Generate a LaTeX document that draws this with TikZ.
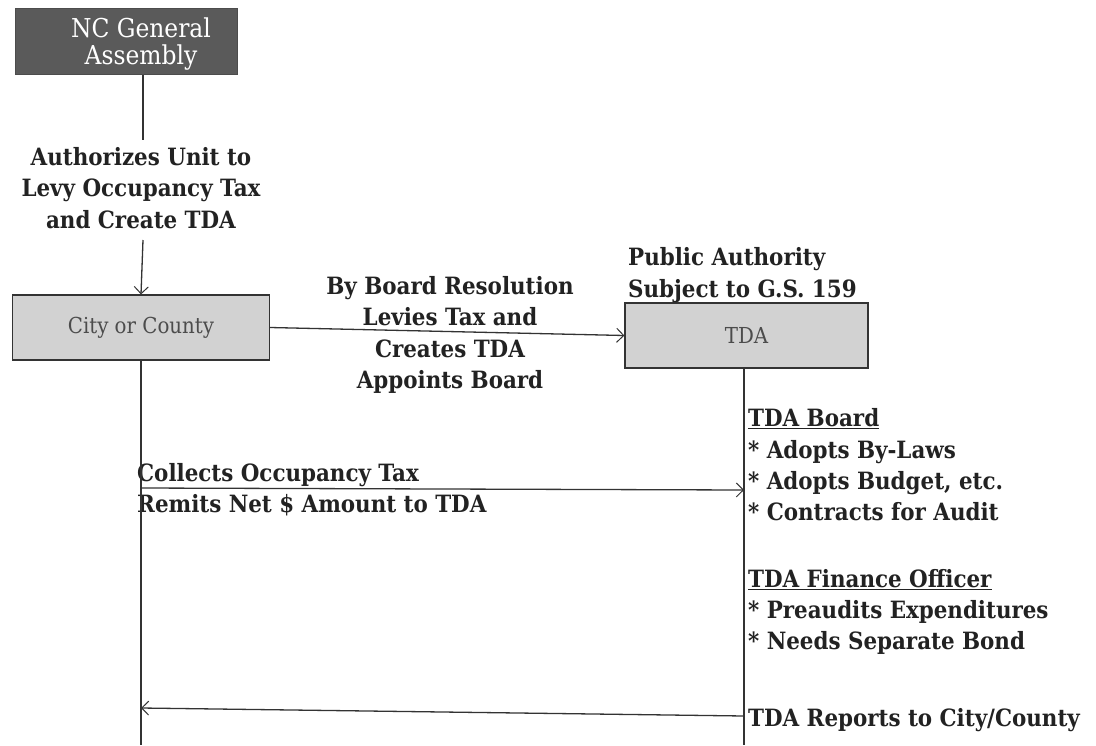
\documentclass[tikz,border=0pt]{standalone}
\usepackage{fontspec}
\setmainfont{DejaVu Serif Condensed}
\usetikzlibrary{arrows.meta}
\definecolor{boxgrey}{HTML}{D2D2D2}
\definecolor{darkbox}{HTML}{5A5A5A}
\definecolor{ink}{HTML}{222222}
\begin{document}
\begin{tikzpicture}[x=1pt,y=-1pt,
  txt/.style={font=\fontsize{23.8}{31.3}\selectfont\bfseries, text=ink, inner sep=0pt},
  lbl/.style={txt, align=left, anchor=west},
  clbl/.style={txt, align=center},
  greybox/.style={draw=black!80, line width=1.2pt, fill=boxgrey, text=black!70,
    font=\fontsize{22}{24}\selectfont, inner sep=0pt},
  conn/.style={draw=black!80, line width=1.3pt},
  arr/.style={conn, -{Straight Barb[length=7pt,width=14pt,line width=1pt]}}
]
\useasboundingbox (0,0) rectangle (1096,745);
\fill[white] (0,0) rectangle (1096,745);

% boxes
\node[draw=black!70, fill=darkbox, line width=1pt,
  minimum width=222, minimum height=66, inner sep=0pt] (nc) at (126,41) {};
\node[text=white, inner sep=0pt, font=\fontsize{26}{27}\selectfont, align=center]
  (nctext) at (141,44) {NC General\\Assembly};
\node[greybox, minimum width=257, minimum height=65] (city) at (141,327.5) {City or County};
\node[greybox, minimum width=243, minimum height=65] (tda) at (746.5,335.5) {TDA};

% labels
\node[clbl] (auth) at (141,188) {Authorizes Unit to\\Levy Occupancy Tax\\and Create TDA};
\node[clbl] (res) at (450,335) {By Board Resolution\\Levies Tax and\\Creates TDA\\Appoints Board};
\node[lbl] (pub) at (628,275) {Public Authority\\Subject to G.S. 159};
\node[lbl] (coll) at (137,490) {Collects Occupancy Tax\\Remits Net \$ Amount to TDA};
\node[lbl] (board) at (748,465) {\underline{TDA Board}\\* Adopts By-Laws\\* Adopts Budget, etc.\\* Contracts for Audit};
\node[lbl] (fin) at (748,612) {\underline{TDA Finance Officer}\\* Preaudits Expenditures\\* Needs Separate Bond};
\node[lbl] (rep) at (748,720) {TDA Reports to City/County};

% coordinates
\coordinate (cend) at (141,745);
\coordinate (tend) at (744,745);
\coordinate (c1) at (141,488);
\coordinate (t1) at (744,490);
\coordinate (c2) at (141,708);
\coordinate (t2) at (744,716);
\coordinate (nca) at (143,140);
\coordinate (auth2) at (143,240);

% connectors
\draw[conn] (nc.south -| nca) -- (nca);
\draw[arr] (auth2) -- (city.north);
\draw[arr] (city.east) -- (tda.west);
\draw[conn] (city.south) -- (cend);
\draw[conn] (tda.south -| tend) -- (tend);
\draw[arr] (c1) -- (t1);
\draw[arr] (t2) -- (c2);
\end{tikzpicture}
\end{document}
